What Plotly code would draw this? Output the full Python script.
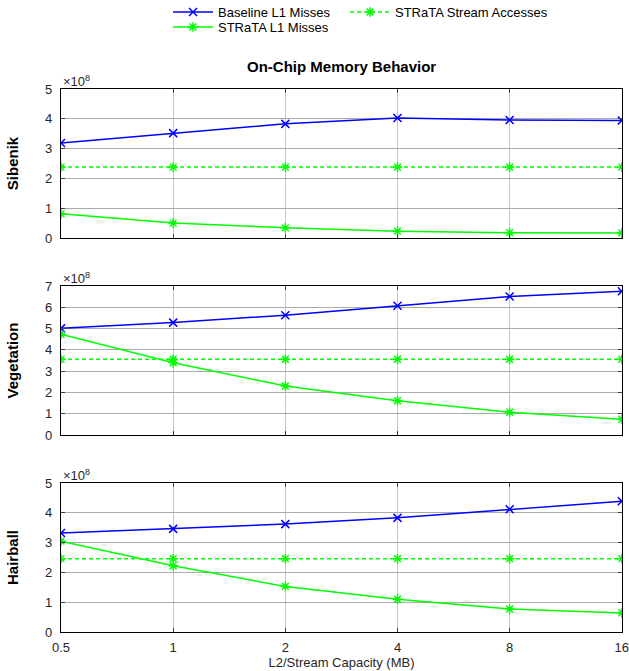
import math
import plotly.graph_objects as go
from plotly.subplots import make_subplots

capacity_mb = [0.5, 1, 2, 4, 8, 16]
tick_labels = ["0.5", "1", "2", "4", "8", "16"]
scenes = ["Sibenik", "Vegetation", "Hairball"]
y_max = [5, 7, 5]

# values in units of 1e8
baseline_l1 = {
    "Sibenik":    [3.19, 3.52, 3.83, 4.03, 3.96, 3.94],
    "Vegetation": [5.01, 5.28, 5.63, 6.07, 6.51, 6.75],
    "Hairball":   [3.32, 3.46, 3.62, 3.83, 4.12, 4.39],
}
strata_l1 = {
    "Sibenik":    [0.81, 0.50, 0.34, 0.23, 0.18, 0.17],
    "Vegetation": [4.73, 3.39, 2.30, 1.61, 1.07, 0.74],
    "Hairball":   [3.05, 2.22, 1.53, 1.10, 0.77, 0.64],
}
stream_acc = {
    "Sibenik":    [2.38] * 6,
    "Vegetation": [3.56] * 6,
    "Hairball":   [2.46] * 6,
}
SCALE = 1e8

BLUE = "#0000ff"
GREEN = "#00ff00"
FONT = "Liberation Sans, Arial, sans-serif"
TXT = "#262626"

fig = make_subplots(rows=3, cols=1, vertical_spacing=0.0884)

for i, s in enumerate(scenes):
    r = i + 1
    show = (i == 0)
    fig.add_trace(go.Scatter(
        x=capacity_mb, y=[v * SCALE for v in baseline_l1[s]], mode="lines+markers",
        name="Baseline L1 Misses", legend="legend", showlegend=show,
        line=dict(color=BLUE, width=1.5),
        marker=dict(symbol="x-thin-open", size=8, line=dict(color=BLUE, width=1.5))),
        row=r, col=1)
    fig.add_trace(go.Scatter(
        x=capacity_mb, y=[v * SCALE for v in stream_acc[s]], mode="lines+markers",
        name="STRaTA Stream Accesses", legend="legend2", showlegend=show,
        line=dict(color=GREEN, width=1.5, dash="4px,3px"),
        marker=dict(symbol="asterisk-open", size=8, line=dict(color=GREEN, width=1.5))),
        row=r, col=1)
    fig.add_trace(go.Scatter(
        x=capacity_mb, y=[v * SCALE for v in strata_l1[s]], mode="lines+markers",
        name="STRaTA L1 Misses", legend="legend3", showlegend=show,
        line=dict(color=GREEN, width=1.5),
        marker=dict(symbol="asterisk-open", size=8, line=dict(color=GREEN, width=1.5))),
        row=r, col=1)

    fig.update_yaxes(
        row=r, col=1, range=[0, y_max[i] * SCALE],
        tickvals=[k * SCALE for k in range(y_max[i] + 1)],
        ticktext=[str(k) for k in range(y_max[i] + 1)],
        title=dict(text="<b>%s</b>" % s, font=dict(size=15, color="black"), standoff=22),
    )
    fig.update_xaxes(
        row=r, col=1, type="log",
        range=[math.log10(capacity_mb[0]), math.log10(capacity_mb[-1]) + 0.0005],
        tickvals=capacity_mb, ticktext=tick_labels,
        showticklabels=(r == 3),
    )

fig.update_xaxes(showgrid=True, gridcolor="#c6c6c6", gridwidth=1,
                 showline=True, linecolor="black", linewidth=1.2, mirror="ticks",
                 ticks="inside", ticklen=4, tickcolor="#404040", ticklabelstandoff=3,
                 ticklabeloverflow="allow",
                 tickfont=dict(size=13, color=TXT), zeroline=False)
fig.update_yaxes(showgrid=True, gridcolor="#ababab", gridwidth=1,
                 showline=True, linecolor="black", linewidth=1.2, mirror="ticks",
                 ticks="inside", ticklen=4, tickcolor="#404040", ticklabelstandoff=5,
                 tickfont=dict(size=13, color=TXT), zeroline=False)

fig.update_xaxes(row=3, col=1,
                 title=dict(text="L2/Stream Capacity (MB)", font=dict(size=13, color=TXT), standoff=0))

# exponent labels
for i in range(3):
    sfx = "" if i == 0 else str(i + 1)
    fig.add_annotation(text="×10<sup>8</sup>", xref="x%s domain" % sfx,
                       yref="y%s domain" % sfx, x=0, y=1, xanchor="left", yanchor="bottom",
                       showarrow=False, font=dict(size=13, color=TXT, family=FONT), yshift=-2)

fig.add_annotation(text="<b>On-Chip Memory Behavior</b>", xref="paper", yref="paper",
                   x=0.5, y=1 + (89 - 66) / 543, xanchor="center", yanchor="middle", showarrow=False,
                   font=dict(size=15, color="black", family=FONT))

def py(px):
    return 1 + (89 - px) / 543

def px_x(px):
    return (px - 61) / 561

leg_common = dict(orientation="v", xanchor="left", yanchor="middle",
                  font=dict(size=13, color="black"), tracegroupgap=0, itemwidth=40,
                  bgcolor="rgba(0,0,0,0)")
fig.update_layout(
    width=629, height=671,
    margin=dict(l=61, r=7, t=89, b=39, autoexpand=False),
    paper_bgcolor="white", plot_bgcolor="white",
    font=dict(family=FONT, size=13, color=TXT),
    legend=dict(x=px_x(168), y=py(12), **leg_common),
    legend2=dict(x=px_x(345), y=py(12), **leg_common),
    legend3=dict(x=px_x(168), y=py(27), **leg_common),
)

fig.write_html("out.html")
